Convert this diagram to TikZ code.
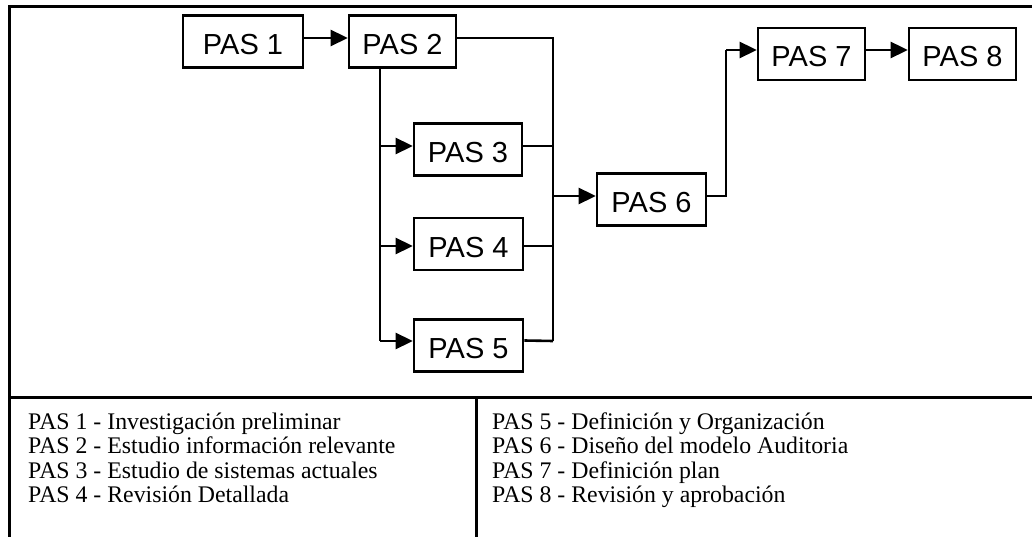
\documentclass[tikz,border=0pt]{standalone}
\usepackage{fontspec}
\setmainfont{Liberation Serif}
\newfontfamily\boxfont{Liberation Sans}
\usetikzlibrary{arrows.meta}
\begin{document}
\begin{tikzpicture}[x=1pt,y=-1pt,
  stepbox/.style={draw, line width=2.6pt, minimum height=52pt, inner sep=0pt,
    font=\boxfont\fontsize{29}{29}\selectfont, text height=26pt, text depth=0pt},
  link/.style={line width=2.6pt},
  arr/.style={link, -{Triangle[length=17pt,width=16pt]}},
  frameline/.style={line width=3pt},
  legend/.style={anchor=base west, inner sep=0pt, font=\fontsize{23.8}{24}\selectfont}]
\useasboundingbox (0,0) rectangle (1032,537);

% outer frame and legend dividers
\draw[frameline] (1032,7) -- (9,7) -- (9,537);
\draw[frameline] (9,397) -- (1032,397);
\draw[frameline] (476,397) -- (476,537);

% steps
\node[stepbox, minimum width=120pt] (p1) at (243,41.5) {PAS 1};
\node[stepbox, minimum width=107pt] (p2) at (402.5,41.5) {PAS 2};
\node[stepbox, minimum width=108pt] (p3) at (468,149.5) {PAS 3};
\node[stepbox, minimum width=109pt] (p4) at (468.5,244) {PAS 4};
\node[stepbox, minimum width=109pt] (p5) at (468.5,345.5) {PAS 5};
\node[stepbox, minimum width=109pt] (p6) at (651.5,199.5) {PAS 6};
\node[stepbox, minimum width=107pt] (p7) at (811.5,54) {PAS 7};
\node[stepbox, minimum width=107pt] (p8) at (962.5,54) {PAS 8};

% junction points
\coordinate (ftop) at ([xshift=-22.5pt]p2.south);
\coordinate (fbot) at (380,341);
\coordinate (jtop) at (553,38);
\coordinate (jbot) at (553,341);
\coordinate (jmid) at (553,196);
\coordinate (up) at (726,196);
\coordinate (uptop) at (726,50);

\coordinate (a3) at ([yshift=3.5pt]p3.west);
\coordinate (a4) at ([yshift=-2pt]p4.west);
\coordinate (a5) at ([yshift=4.5pt]p5.west);
\coordinate (b3) at ([yshift=3.5pt]p3.east);
\coordinate (b4) at ([yshift=-2pt]p4.east);
\coordinate (b5) at ([yshift=5pt]p5.east);

% connectors
\draw[arr] ([yshift=3.5pt]p1.east) -- ([yshift=3.5pt]p2.west);
\draw[link] ([yshift=3.5pt]p2.east) -- (jtop) -- (jbot);
\draw[link] (ftop) -- (fbot);
\draw[arr] (ftop |- a3) -- (a3);
\draw[arr] (ftop |- a4) -- (a4);
\draw[arr] (fbot) -- (a5);
\draw[link] (b3) -- (jtop |- b3);
\draw[link] (b4) -- (jtop |- b4);
\draw[link] (b5) -- (jbot);
\draw[arr] (jmid) -- ([yshift=3.5pt]p6.west);
\draw[link] ([yshift=3.5pt]p6.east) -- (up) -- (uptop);
\draw[arr] (uptop) -- ([yshift=4pt]p7.west);
\draw[arr] ([yshift=4pt]p7.east) -- ([yshift=4pt]p8.west);

% legend
\node[legend] (l1) at (28,429)   {PAS 1 - Investigación preliminar};
\node[legend] (l2) at (28,453.5) {PAS 2 - Estudio información relevante};
\node[legend] (l3) at (28,478)   {PAS 3 - Estudio de sistemas actuales};
\node[legend] (l4) at (28,502.5) {PAS 4 - Revisión Detallada};
\node[legend] (l5) at (492,429)   {PAS 5 - Definición y Organización};
\node[legend] (l6) at (492,453.5) {PAS 6 - Diseño del modelo Auditoria};
\node[legend] (l7) at (492,478)   {PAS 7 - Definición plan};
\node[legend] (l8) at (492,502.5) {PAS 8 - Revisión y aprobación};
\end{tikzpicture}
\end{document}
